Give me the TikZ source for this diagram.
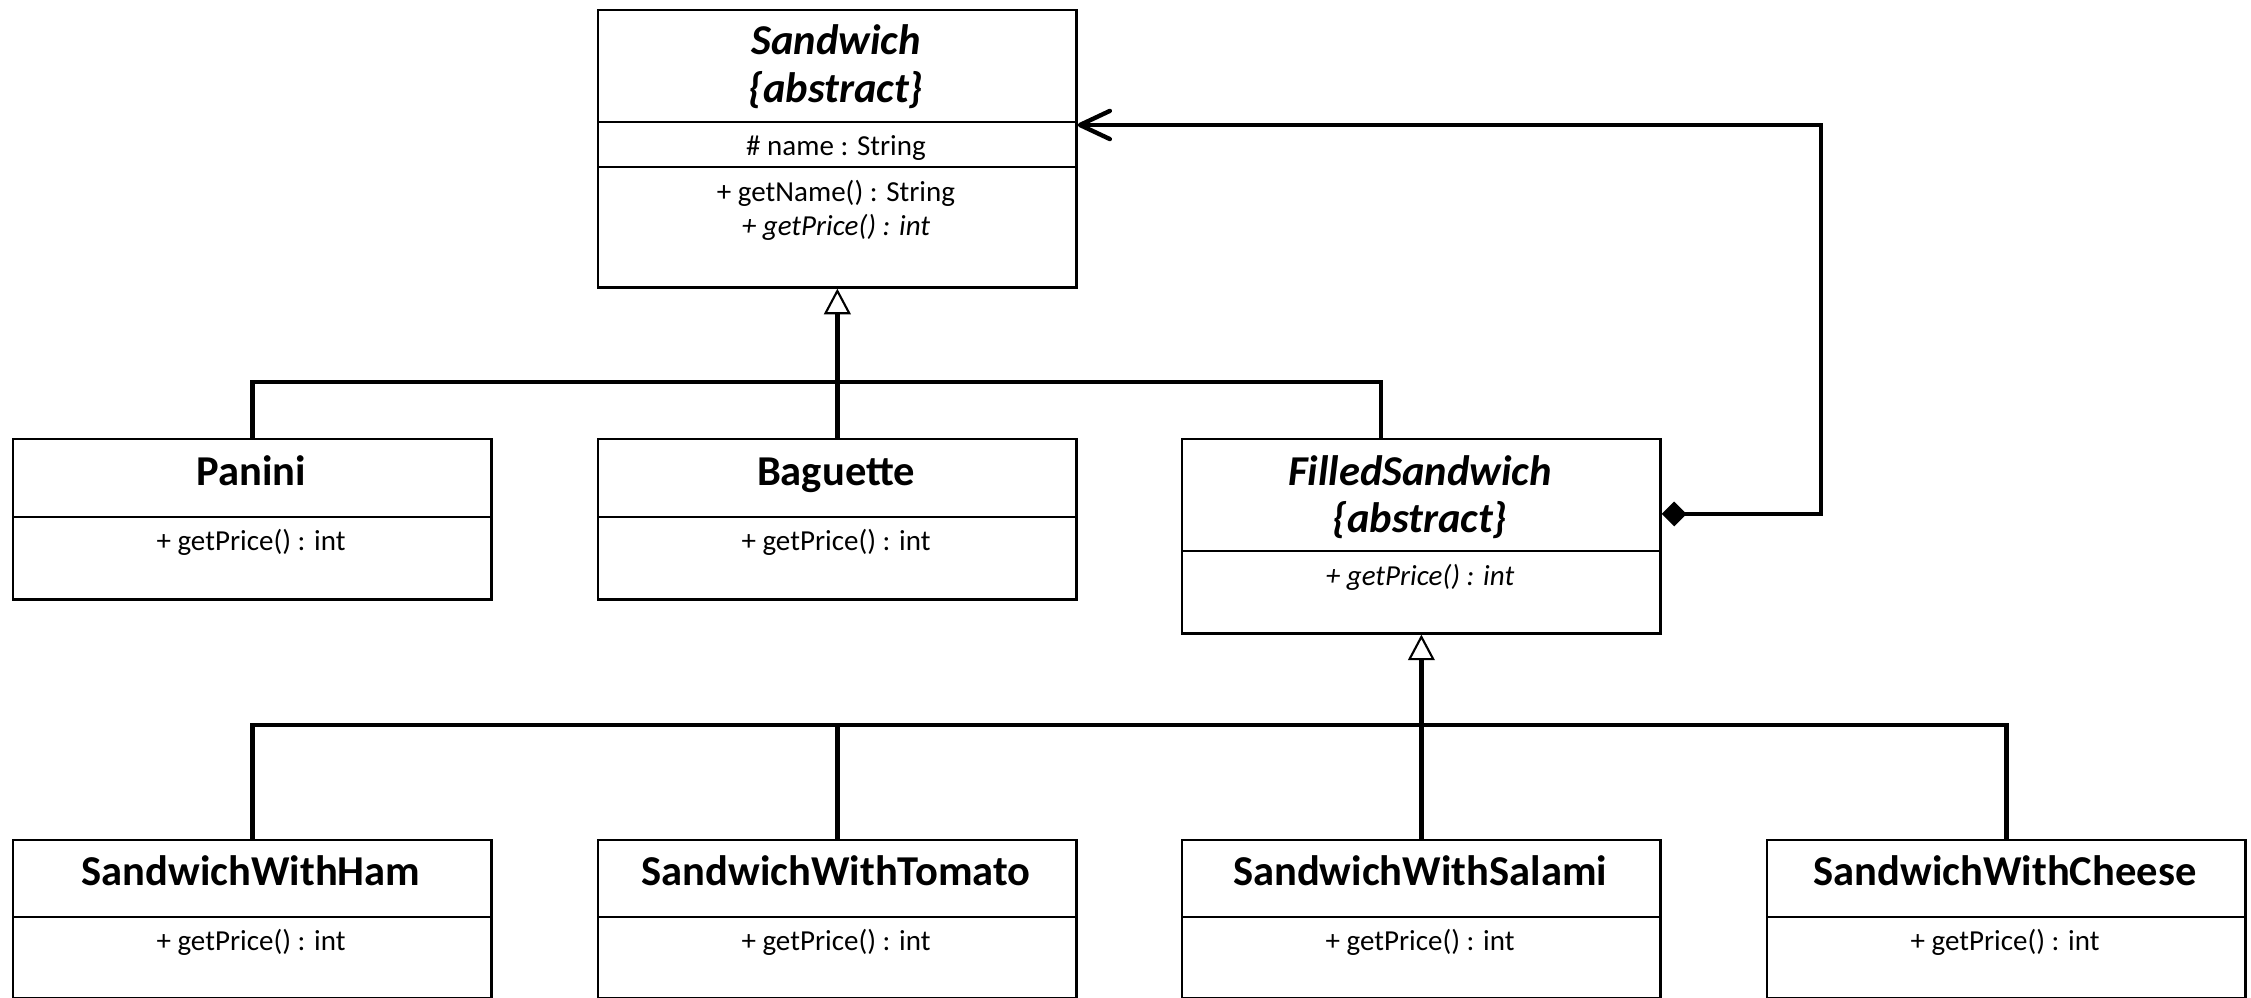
\documentclass[tikz,border=0pt]{standalone}
\usepackage{fontspec}
\setmainfont{Carlito}
\usetikzlibrary{arrows.meta}
\begin{document}
\begin{tikzpicture}[x=0.01cm,y=-0.01cm,
  classbox/.style={draw, line width=0.7pt, inner sep=0pt, anchor=north west, minimum width=4.78cm},
  divider/.style={line width=0.7pt},
  ctitle/.style={anchor=base, inner sep=0pt, font=\fontsize{12.1}{14}\selectfont\bfseries},
  atitle/.style={anchor=base, inner sep=0pt, font=\fontsize{12.1}{14}\selectfont\bfseries\itshape},
  member/.style={anchor=base, inner sep=0pt, font=\fontsize{8.25}{10}\selectfont},
  amember/.style={anchor=base, inner sep=0pt, font=\fontsize{8.25}{10}\selectfont\itshape},
  conn/.style={line width=1.25pt},
  gen/.style={line width=1.25pt, -{Triangle[open, fill=white, line width=0.6pt, length=7.3pt, width=7.6pt]}},
  assoc/.style={line width=1.25pt, {Diamond[length=7.1pt, width=7.1pt]}-{Straight Barb[length=8.5pt, width=8pt, round]}}
]
\useasboundingbox (0,0) rectangle (2251,998);

% Sandwich
\node[classbox, minimum height=2.77cm] (sandwich) at (597,9) {};
\draw[divider] (597,122) -- (1075,122);
\draw[divider] (597,167) -- (1075,167);
\node[atitle] (sandwichT1) at (836,55) {Sandwich};
\node[atitle] (sandwichT2) at (836,103) {\{abstract\}};
\node[member] (sandwichA) at (836,155.5) {\# name : String};
\node[member] (sandwichM1) at (836,202) {+ getName() : String};
\node[amember] (sandwichM2) at (836,236) {+ getPrice() : int};

% Panini
\node[classbox, minimum height=1.60cm] (panini) at (12,438) {};
\draw[divider] (12,517) -- (490,517);
\node[ctitle] (paniniT) at (251,486) {Panini};
\node[member] (paniniM) at (251,550.5) {+ getPrice() : int};

% Baguette
\node[classbox, minimum height=1.60cm] (baguette) at (597,438) {};
\draw[divider] (597,517) -- (1075,517);
\node[ctitle] (baguetteT) at (836,486) {Baguette};
\node[member] (baguetteM) at (836,550.5) {+ getPrice() : int};

% FilledSandwich
\node[classbox, minimum height=1.94cm] (filled) at (1181,438) {};
\draw[divider] (1181,551) -- (1659,551);
\node[atitle] (filledT1) at (1420,486) {FilledSandwich};
\node[atitle] (filledT2) at (1420,533) {\{abstract\}};
\node[amember] (filledM) at (1420,586) {+ getPrice() : int};

% Bottom row
\node[classbox, minimum height=1.575cm] (ham) at (12,839) {};
\draw[divider] (12,917) -- (490,917);
\node[ctitle] (hamT) at (251,886) {SandwichWithHam};
\node[member] (hamM) at (251,951) {+ getPrice() : int};

\node[classbox, minimum height=1.575cm] (tomato) at (597,839) {};
\draw[divider] (597,917) -- (1075,917);
\node[ctitle] (tomatoT) at (836,886) {SandwichWithTomato};
\node[member] (tomatoM) at (836,951) {+ getPrice() : int};

\node[classbox, minimum height=1.575cm] (salami) at (1181,839) {};
\draw[divider] (1181,917) -- (1659,917);
\node[ctitle] (salamiT) at (1420,886) {SandwichWithSalami};
\node[member] (salamiM) at (1420,951) {+ getPrice() : int};

\node[classbox, minimum height=1.575cm] (cheese) at (1766,839) {};
\draw[divider] (1766,917) -- (2244,917);
\node[ctitle] (cheeseT) at (2005,886) {SandwichWithCheese};
\node[member] (cheeseM) at (2005,951) {+ getPrice() : int};

% Generalization to Sandwich
\coordinate (bus1) at (0,382);
\coordinate (bus1R) at (1381,382);
\draw[conn] (panini.north) -- (panini.north |- bus1) -- (bus1R) -- (bus1R |- filled.north);
\draw[gen] (baguette.north) -- (sandwich.south);

% Generalization to FilledSandwich
\coordinate (bus2) at (0,725);
\draw[conn] (ham.north) -- (ham.north |- bus2) -- (cheese.north |- bus2) -- (cheese.north);
\draw[conn] (tomato.north) -- (tomato.north |- bus2);
\draw[gen] (salami.north) -- (filled.south);

% Composition / association
\coordinate (c1) at (1821,514);
\coordinate (c2) at (1821,125);
\draw[assoc] (filled.east |- c1) -- (c1) -- (c2) -- (sandwich.east |- c2);
\end{tikzpicture}
\end{document}
